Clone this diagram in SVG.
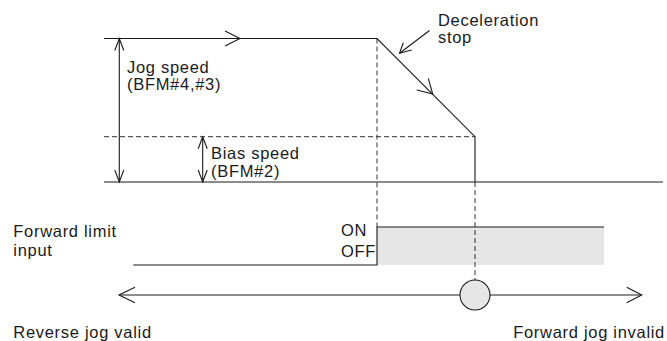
<svg xmlns="http://www.w3.org/2000/svg" width="667" height="341" viewBox="0 0 667 341">
<style>
.ln{fill:none;stroke:#1a1a1a;stroke-width:1.1}
.ds{fill:none;stroke:#333;stroke-width:1;stroke-dasharray:5,3}
.ah{fill:none;stroke:#1a1a1a;stroke-width:1.1;stroke-linejoin:miter}
text{font-family:"Liberation Sans",Arial,Helvetica,sans-serif;font-size:16.5px;letter-spacing:0.7px;fill:#1a1a1a}
</style>
<rect width="667" height="341" fill="#fff"/>
<g id="limit-fill">
<rect x="377" y="227" width="227" height="38" fill="#e6e6e6"/>
</g>
<g id="connectors">
<path class="ds" d="M104 136.7H475"/>
<path class="ds" d="M377 38.5V227"/>
<path class="ds" d="M475 182V280"/>
<path class="ln" d="M104 38.5H377L475 136.7V182"/>
<path class="ah" d="M225 31L240 38.5L225 46"/>
<path class="ah" d="M428.3 78.3L432.7 94L416.7 90"/>
<path class="ln" d="M104 182H663" stroke="#444"/>
<path class="ln" d="M119.3 38.5V182"/>
<path class="ah" d="M114.8 50.5L119.3 38.5L123.8 50.5"/>
<path class="ah" d="M114.8 170L119.3 182L123.8 170"/>
<path class="ln" d="M202.7 136.7V182"/>
<path class="ah" d="M198.2 148.7L202.7 136.7L207.2 148.7"/>
<path class="ah" d="M198.2 170L202.7 182L207.2 170"/>
<path class="ln" d="M429.5 30.5L399.5 53.3"/>
<path class="ah" d="M411.7 50L399.5 53.3L403.3 42.7"/>
<path class="ln" d="M133.3 265H377V227H604"/>
<path class="ln" d="M119 295H641.7"/>
<path class="ah" d="M135 287.3L119 295L135 302.7"/>
<path class="ah" d="M626.7 287.3L641.7 295L626.7 302.7"/>
</g>
<g id="limit-point">
<circle cx="475" cy="295" r="15" fill="#e6e6e6" stroke="#1a1a1a" stroke-width="1.1"/>
</g>
<g id="label-jog">
<text x="127" y="72.5">Jog speed</text>
<text x="127" y="90">(BFM#4,#3)</text>
</g>
<g id="label-bias">
<text x="211" y="159.3">Bias speed</text>
<text x="211" y="176.5">(BFM#2)</text>
</g>
<g id="label-decel">
<text x="438" y="26">Deceleration</text>
<text x="438" y="42.8">stop</text>
</g>
<g id="label-limit">
<text x="13.3" y="237.3">Forward limit</text>
<text x="13.3" y="255.5">input</text>
<text x="341" y="236">ON</text>
<text x="341" y="257">OFF</text>
</g>
<g id="label-reverse">
<text x="13.3" y="338">Reverse jog valid</text>
</g>
<g id="label-forward">
<text x="665" y="338" text-anchor="end">Forward jog invalid</text>
</g>
</svg>
